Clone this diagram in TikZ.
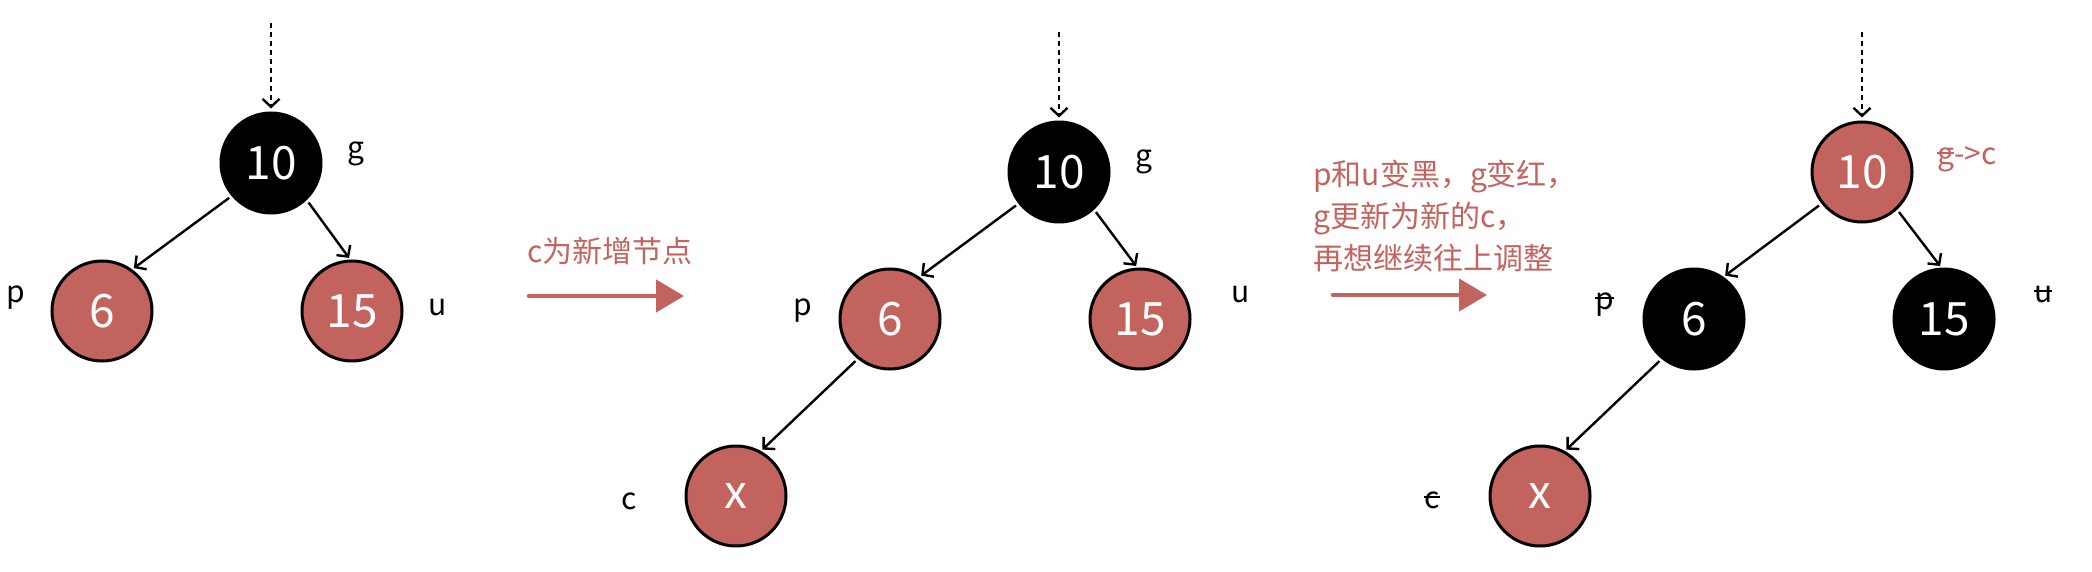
\documentclass[tikz,border=0pt]{standalone}
\usepackage{fontspec}
\setmainfont{Noto Sans CJK SC}
\usetikzlibrary{arrows.meta}
\definecolor{rbred}{RGB}{195,99,94}
\newcommand\strk[1]{\setbox0\hbox{#1}\rlap{\rule[0.35em]{\wd0}{2pt}}\box0}
\tikzset{
  tn/.style={circle, draw=black, line width=3pt, minimum size=100pt, inner sep=0pt, text=white, font=\fontsize{46}{54}\selectfont},
  bk/.style={tn, fill=black},
  rd/.style={tn, fill=rbred},
  lbl/.style={anchor=base west, inner sep=0pt, font=\fontsize{30}{36}\selectfont},
  edge/.style={line width=2.4pt, -{Straight Barb[length=8pt,width=17pt]}, shorten <=3pt, shorten >=2pt},
  entry/.style={line width=2.4pt, dash pattern=on 5pt off 4pt, -{Straight Barb[length=8pt,width=17pt]}, shorten >=3pt},
  bigarrow/.style={draw=rbred, line width=4.5pt, line cap=round, -{Triangle[length=28pt,width=32pt]}},
  note/.style={inner sep=0pt, text=rbred, font=\fontsize{30}{42}\selectfont, align=left},
}
\begin{document}
\begin{tikzpicture}[x=1pt,y=-1pt]
\useasboundingbox (0,0) rectangle (2092,572);
% ---------- tree 1
\node[bk] (g1) at (271,163) {10};
\node[rd] (p1) at (102,311) {6};
\node[rd] (u1) at (352,311) {15};
\coordinate (e1) at (271,23);
\draw[entry] (e1) -- (g1.north);
\draw[edge] (g1.220) -- (p1.54);
\draw[edge] (g1.-46) -- (u1.92);
\node[lbl] (lg1) at (347,159) {g};
\node[lbl] (lp1) at (6,302) {p};
\node[lbl] (lu1) at (428,315) {u};
% ---------- arrow 1
\node[note, anchor=base west] (t1) at (527,262) {c为新增节点};
\coordinate (a1s) at (529,296);
\coordinate (a1e) at (684,296);
\draw[bigarrow] (a1s) -- (a1e);
% ---------- tree 2
\node[bk] (g2) at (1059,172) {10};
\node[rd] (p2) at (890,319) {6};
\node[rd] (u2) at (1140,319) {15};
\node[rd] (x2) at (736,496) {x};
\coordinate (e2) at (1059,32);
\draw[entry] (e2) -- (g2.north);
\draw[edge] (g2.218) -- (p2.55);
\draw[edge] (g2.-47) -- (u2.93);
\draw[edge] (p2.231) -- (x2.61);
\node[lbl] (lg2) at (1135,167) {g};
\node[lbl] (lp2) at (793,315) {p};
\node[lbl] (lu2) at (1231,302) {u};
\node[lbl] (lc2) at (621,509) {c};
% ---------- arrow 2
\node[note, anchor=north west] (t2) at (1313,160) {p和u变黑，g变红，\\g更新为新的c，\\再想继续往上调整};
\coordinate (a2s) at (1333,295);
\coordinate (a2e) at (1487,295);
\draw[bigarrow] (a2s) -- (a2e);
% ---------- tree 3
\node[rd] (g3) at (1862,172) {10};
\node[bk] (p3) at (1694,319) {6};
\node[bk] (u3) at (1944,319) {15};
\node[rd] (x3) at (1540,496) {x};
\coordinate (e3) at (1862,32);
\draw[entry] (e3) -- (g3.north);
\draw[edge] (g3.218) -- (p3.55);
\draw[edge] (g3.-47) -- (u3.93);
\draw[edge] (p3.231) -- (x3.61);
\node[lbl, text=rbred] (lg3) at (1937,165) {\strk{g}->c};
\node[lbl] (lp3) at (1595,309) {\strk{p}};
\node[lbl] (lu3) at (2034,302) {\strk{u}};
\node[lbl] (lc3) at (1424,508) {\strk{c}};
\end{tikzpicture}
\end{document}
